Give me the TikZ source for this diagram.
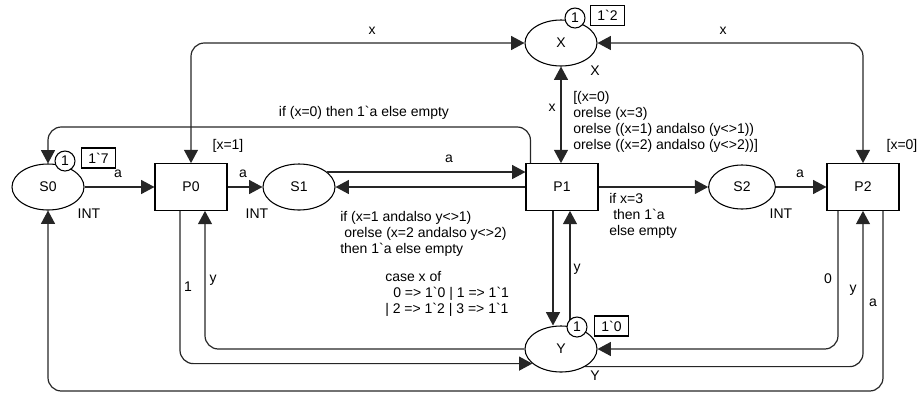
\documentclass[tikz,border=0pt]{standalone}
\usepackage{fontspec}
\setmainfont{Liberation Sans}
\usetikzlibrary{calc}
\usetikzlibrary{shapes.geometric}
\usetikzlibrary{arrows.meta}
\newcommand{\bqt}{\textasciigrave}
\tikzset{
    placeoval/.style={
        ellipse, draw, line width=0.8pt, fill=white,
        minimum width=54pt, minimum height=34.5pt, inner sep=0pt,
        font=\fontsize{10.5}{12}\selectfont
    },
    transbox/.style={
        rectangle, draw, line width=0.8pt, fill=white,
        minimum width=54pt, minimum height=35pt, inner sep=0pt,
        font=\fontsize{10.5}{12}\selectfont
    },
    tokencircle/.style={
        circle, draw, line width=0.8pt, fill=white,
        minimum size=15pt, inner sep=0pt,
        font=\fontsize{10.5}{12}\selectfont
    },
    markbox/.style={
        rectangle, draw, line width=0.8pt, fill=white,
        minimum width=25pt, minimum height=15pt, inner sep=0pt,
        font=\fontsize{10.5}{12}\selectfont
    },
    % arcs of the net
    arcarrow/.style={
        line width=0.9pt, black!85, rounded corners=10pt,
        -{Triangle[length=10pt, width=10.5pt]}
    },
    twowayarrow/.style={
        line width=0.9pt, black!85, rounded corners=10pt,
        {Triangle[length=10pt, width=10.5pt]}-{Triangle[length=10pt, width=10.5pt]}
    },
    labeltext/.style={inner sep=0pt, font=\fontsize{10.5}{12}\selectfont}
}

\begin{document}
\begin{tikzpicture}[x=0.75pt,y=-0.75pt]
	\useasboundingbox (0,0) rectangle (922,394);
	
	% places and transitions
	\node[placeoval] (S0) at (48,187) {S0};
	\node[transbox] (P0) at (191,187) {P0};
	\node[placeoval] (S1) at (299,187) {S1};
	\node[transbox] (P1) at (562,187) {P1};
	\node[placeoval, minimum width=50pt, minimum height=33pt] (S2) at (742,187) {S2};
	\node[transbox] (P2) at (863,187) {P2};
	\node[placeoval] (X) at (561,43) {X};
	\node[placeoval] (Y) at (561,349) {Y};
	
	\path
	(0,127) coordinate (hi)
	(0,391) coordinate (lo)
	(553,0) coordinate (yl)
	(570,0) coordinate (yr);
	
	% middle row
	\draw[arcarrow] (S0.east) -- (P0.west);
	\draw[arcarrow] (P0.east) -- (S1.west);
	\draw[arcarrow] (S1.28) -- (S1.28 -| P1.west);
	\draw[arcarrow] (P1.west) -- (S1.east);
	\draw[arcarrow] (P1.east) -- (S2.west);
	\draw[arcarrow] (S2.east) -- (P2.west);
	
	% arcs of X
	\draw[twowayarrow] (X.south) -- (X.south |- P1.north);
	\draw[twowayarrow] (P0.north) |- (X.west);
	\draw[twowayarrow] (X.east) -| (P2.north);
	\draw[arcarrow] ($(P1.north west)+(5,0)$) |- (S0.north |- hi) -- (S0.north);
	
	% arcs of Y
	\draw[arcarrow] (P1.south -| yl) -- (yl |- Y.north);
	\draw[arcarrow] (yr |- Y.north) -- (P1.south -| yr);
	\draw[arcarrow] (Y.west) -| ($(P0.south)+(14,0)$);
	\draw[arcarrow] ($(P0.south)+(-11,0)$) |- (Y.207);
	\draw[arcarrow] ($(P2.south)+(-25,0)$) |- (Y.east);
	\draw[arcarrow] (Y.324) -| (P2.south);
	\draw[arcarrow] ($(P2.south)+(20,0)$) |- (S0.south |- lo) -- (S0.south);
	
	% tokens and markings
	\node[tokencircle] (t0) at (65,161) {1};
	\node[markbox] (m0) at (98.5,158) {1\bqt7};
	\node[tokencircle] (tX) at (575,18) {1};
	\node[markbox] (mX) at (607.5,15.5) {1\bqt2};
	\node[tokencircle] (tY) at (577,327) {1};
	\node[markbox] (mY) at (611.5,326) {1\bqt0};
	
	% colour sets
	\node[labeltext] at (89,214) {INT};
	\node[labeltext] at (257,214) {INT};
	\node[labeltext] at (781,214) {INT};
	\node[labeltext] at (595,71) {X};
	\node[labeltext] at (595,376) {Y};
	
	% guards
	\node[labeltext] at (228,146) {[x=1]};
	\node[labeltext] at (902,146) {[x=0]};
	\node[labeltext, align=left, anchor=north west] at (573,91)
	{[(x=0)\\orelse (x=3)\\orelse ((x=1) andalso (y<>1))\\orelse ((x=2) andalso (y<>2))]};
	
	% arc inscriptions
	\node[labeltext] at (118,174) {a};
	\node[labeltext] at (243,174) {a};
	\node[labeltext] at (449,159) {a};
	\node[labeltext] at (800,174) {a};
	\node[labeltext] at (372,31) {x};
	\node[labeltext] at (723,31) {x};
	\node[labeltext] at (552,108) {x};
	\node[labeltext] at (364,113) {if (x=0) then 1\bqt a else empty};
	\node[labeltext, align=left, anchor=north west] at (340,211)
	{if (x=1 andalso y<>1)\\\hspace*{3pt}orelse (x=2 andalso y<>2)\\then 1\bqt a else empty};
	\node[labeltext, align=left, anchor=north west] at (609,193)
	{if x=3\\\hspace*{3pt}then 1\bqt a\\else empty};
	\node[labeltext, align=left, anchor=north west] at (385,271)
	{case x of\\\hspace*{6pt}0 => 1\bqt 0 | 1 => 1\bqt 1\\| 2 => 1\bqt 2 | 3 => 1\bqt 1};
	\node[labeltext] at (213,280) {y};
	\node[labeltext] at (188,287) {1};
	\node[labeltext] at (577,269) {y};
	\node[labeltext] at (828,279) {0};
	\node[labeltext] at (853,290) {y};
	\node[labeltext] at (873,303) {a};
\end{tikzpicture}
\end{document}
